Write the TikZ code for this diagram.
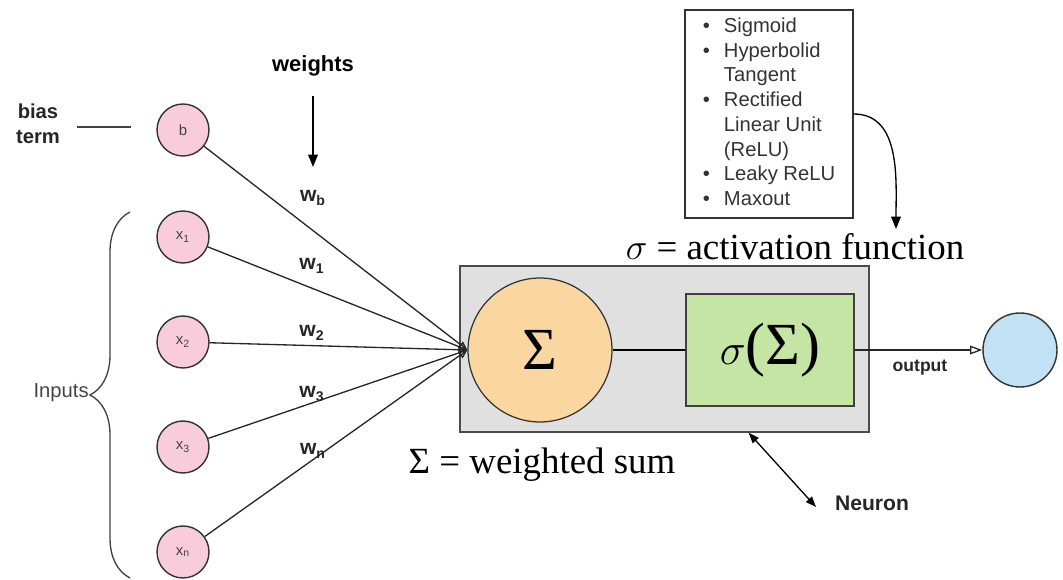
\documentclass[tikz,border=0pt]{standalone}
\usepackage{fontspec}
\setmainfont{Liberation Sans}
\newfontfamily\serifface{Liberation Serif}
\usepackage{tikz}
\usetikzlibrary{arrows.meta,decorations.pathreplacing,calc}

\definecolor{inpink}{HTML}{F8CCDA}
\definecolor{sumorange}{HTML}{FAD7A1}
\definecolor{actgreen}{HTML}{C5E5A5}
\definecolor{neurongray}{HTML}{E0E0E0}
\definecolor{outblue}{HTML}{C2E1F5}
\definecolor{txtgray}{HTML}{444444}

\begin{document}
\begin{tikzpicture}[x=0.02cm, y=-0.02cm,
  innode/.style={circle, draw=black!80, fill=inpink, line width=0.8pt,
    minimum size=1.04cm, inner sep=0pt, font=\fontsize{8.5}{9}\selectfont, text=txtgray},
  sumnode/.style={circle, draw=black!80, fill=sumorange, line width=0.7pt,
    minimum size=2.88cm, inner sep=0pt, font=\serifface\fontsize{34}{36}\selectfont},
  actbox/.style={rectangle, draw=black!75, fill=actgreen, line width=0.8pt,
    minimum width=3.36cm, minimum height=2.24cm, inner sep=0pt,
    font=\serifface\fontsize{34}{36}\selectfont},
  neuronbox/.style={rectangle, draw=black!70, fill=neurongray, line width=0.9pt,
    minimum width=8.18cm, minimum height=3.32cm},
  outnode/.style={circle, draw=black!80, fill=outblue, line width=0.8pt,
    minimum size=1.48cm, inner sep=0pt},
  listbox/.style={rectangle, draw=black!80, line width=0.8pt, minimum width=3.36cm,
    minimum height=4.16cm, inner sep=0pt, text=black!80,
    font=\fontsize{11.5}{14.1}\selectfont},
  wlabel/.style={font=\bfseries\fontsize{12}{14}\selectfont, inner sep=0pt, text=black!85},
  formula/.style={font=\serifface\fontsize{21}{24}\selectfont, inner sep=0pt},
  wire/.style={line width=0.75pt, draw=black!85, -{Triangle[open, length=5pt, width=4.5pt]}},
  outwire/.style={line width=0.75pt, draw=black!85, -{Triangle[open, length=7pt, width=5pt]}},
  pointer/.style={line width=0.75pt, -{Triangle[length=7pt, width=5.5pt]}},
  dblpointer/.style={line width=0.75pt,
    {Triangle[length=6pt, width=4.5pt]}-{Triangle[length=6pt, width=4.5pt]}},
]
\useasboundingbox (0,0) rectangle (1063,580);

%% ── Neuron (grey frame) ──
\node[neuronbox] (neuron) at (664.5,349) {};
\node[sumnode] (sum) at (540,350) {Σ};
\node[actbox]  (act) at (770,350) {$\sigma$(Σ)};
\draw[line width=0.75pt] (sum) -- (act);

%% ── Inputs ──
\node[innode] (b)  at (183,130) {b};
\node[innode] (x1) at (183,237) {x\textsubscript{1}};
\node[innode] (x2) at (183,342) {x\textsubscript{2}};
\node[innode] (x3) at (183,447) {x\textsubscript{3}};
\node[innode] (xn) at (183,552) {x\textsubscript{n}};

%% ── Weighted connections ──
\draw[wire] (b)  -- (sum.west);
\draw[wire] (x1) -- (sum.west);
\draw[wire] (x2) -- (sum.west);
\draw[wire] (x3) -- (sum.west);
\draw[wire] (xn) -- (sum.west);
\node[wlabel] (lwb) at (313,198) {w\textsubscript{b}};
\node[wlabel] (lw1) at (312,266) {w\textsubscript{1}};
\node[wlabel] (lw2) at (312,333) {w\textsubscript{2}};
\node[wlabel] (lw3) at (312,394) {w\textsubscript{3}};
\node[wlabel] (lwn) at (313,451) {w\textsubscript{n}};

%% ── Weights / bias annotations ──
\node[font=\bfseries\fontsize{12.5}{14}\selectfont, inner sep=0pt] (weights) at (313,66) {weights};
\coordinate (wtip) at (313,167);
\draw[pointer, shorten <=0.38cm] (weights) -- (wtip);
\node[font=\bfseries\fontsize{11.5}{14.2}\selectfont, align=center, inner sep=0pt,
  text=black!85] (bias) at (38,124) {bias\\term};
\coordinate (bl) at (77,127);
\coordinate (br) at (131,127);
\draw[line width=0.75pt, black!75] (bl) -- (br);

%% ── Inputs brace ──
\coordinate (brbot) at (130,578);
\coordinate (brtop) at (130,212);
\draw[decorate, decoration={brace, amplitude=0.8cm}, line width=0.75pt, black!75]
  (brbot) -- (brtop);
\node[font=\fontsize{11.5}{13}\selectfont, text=txtgray, anchor=east, inner sep=0pt]
  (inputs) at (89,393) {Inputs};

%% ── Output ──
\node[outnode] (out) at (1020,350) {};
\draw[outwire] (act) -- (out);
\node[font=\bfseries\fontsize{10}{12}\selectfont, inner sep=0pt, text=black!85]
  (outlbl) at (920,368) {output};

%% ── Activation functions list ──
\node[listbox] (acts) at (769,114) {\begin{tabular}{@{}c@{\hspace{8pt}}l@{}}
  \textbullet & Sigmoid\\
  \textbullet & Hyperbolid\\
              & Tangent\\
  \textbullet & Rectified\\
              & Linear Unit\\
              & (ReLU)\\
  \textbullet & Leaky ReLU\\
  \textbullet & Maxout
\end{tabular}};
\coordinate (acttip) at (896,229);
\draw[pointer] (acts.east) to[out=0, in=90] (acttip);
\node[formula] (actlbl) at (795,247) {$\sigma$ = activation function};

%% ── Sum / neuron labels ──
\node[formula] (sumlbl) at (542,465) {Σ = weighted sum};
\node[font=\bfseries\fontsize{12}{14}\selectfont, inner sep=0pt, text=black!85]
  (neuronlbl) at (872,503) {Neuron};
\coordinate (ntip) at (816,507);
\draw[dblpointer] ($(neuron.south west)!0.705!(neuron.south east)$) -- (ntip);
\end{tikzpicture}
\end{document}
